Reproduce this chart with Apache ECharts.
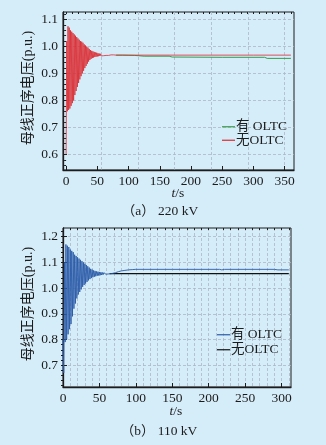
<!DOCTYPE html>
<html>
<head>
<meta charset="utf-8">
<script src="https://cdn.jsdelivr.net/npm/echarts@6/dist/echarts.min.js"></script>
<style>
  html, body { margin: 0; padding: 0; background: #d5ecf9; }
  #chart { width: 326px; height: 445px; }
</style>
</head>
<body>
<div id="chart"></div>
<script>
// (a) 220 kV: transient (both cases coincide, drawn once under 无OLTC), then the tails
const oscTimeA = [0,1,2,3,4,5,6,7,8,9,10,11,12,13,14,15,16,17,18,19,20,21,22,23,24,25,26,27,28,29,
  30,31,32,33,34,35,36,37,38,39,40,41,42,43,44,45,46,47,48,49,50,51,52,53,54,55,56,57,58,59,
  60,61,62,63,64,65,66,67,68,69,70,72,74,76,78,80]
const oscVoltA = [0.60,1.02,0.76,1.075,0.765,1.07,0.77,1.06,0.78,1.055,0.79,1.05,0.80,1.045,0.82,1.04,0.835,1.035,0.85,1.03,
  0.865,1.025,0.878,1.02,0.89,1.018,0.90,1.014,0.91,1.008,0.92,1.004,0.928,1.0,0.936,0.996,0.944,0.991,0.950,0.987,
  0.954,0.984,0.957,0.982,0.959,0.980,0.961,0.978,0.962,0.977,0.963,0.975,0.964,0.974,0.965,0.973,0.965,0.972,0.966,0.971,
  0.966,0.970,0.966,0.970,0.967,0.969,0.967,0.969,0.967,0.969,0.967,0.969,0.968,0.969,0.968,0.968]
const noOltcTimeA = [100, 200, 300, 360]
const noOltcVoltA = [0.968, 0.968, 0.968, 0.968]
const oltcTimeA = [80, 90, 110, 125, 165, 170, 250, 318, 322, 360]
const oltcVoltA = [0.968, 0.968, 0.967, 0.964, 0.964, 0.961, 0.960, 0.960, 0.956, 0.956]

// (b) 110 kV
const oscTimeB = [0,1,2,3,4,5,6,7,8,9,10,11,12,13,14,15,16,17,18,19,20,21,22,23,24,25,26,27,28,29,
  30,31,32,33,34,35,36,37,38,39,40,41,42,43,44,45,46,47,48,49,50,51,52,53,54,55,56,57,58,59,60,62,64,66]
const oscVoltB = [0.80,0.67,1.10,0.79,1.17,0.80,1.165,0.82,1.16,0.84,1.15,0.86,1.145,0.89,1.14,0.92,1.13,0.94,1.125,0.96,
  1.12,0.975,1.115,0.985,1.11,0.995,1.105,1.005,1.10,1.012,1.095,1.018,1.09,1.024,1.085,1.03,1.08,1.035,1.075,1.039,
  1.072,1.042,1.069,1.044,1.067,1.046,1.065,1.048,1.064,1.049,1.063,1.050,1.062,1.051,1.061,1.052,1.060,1.053,1.059,1.054,
  1.058,1.055,1.057,1.056]
const oltcTimeB = [68, 72, 76, 80, 85, 90, 95, 100, 150, 215, 218, 222, 290, 295, 310]
const oltcVoltB = [1.057, 1.060, 1.064, 1.067, 1.069, 1.071, 1.072, 1.073, 1.073, 1.073, 1.071, 1.073, 1.073, 1.071, 1.071]
const noOltcTimeB = [64, 310]
const noOltcVoltB = [1.056, 1.056]

const xTicksA = [0, 50, 100, 150, 200, 250, 300, 350]
const xGridA = [56, 114.8, 173.6, 232.4, 291.2, 350]
const yTicksA = [0.6, 0.7, 0.8, 0.9, 1.0, 1.1]
const yTicksB = [0.7, 0.8, 0.9, 1.0, 1.1, 1.2]
const legendText = { a1: '有 OLTC', a2: '无OLTC', b1: '有 OLTC', b2: '无OLTC' }

const zip = (t, v) => t.map((x, i) => [x, v[i]])
const range = (a, b, s) => { const r = []; for (let x = a; x <= b + 1e-9; x += s) r.push(+x.toFixed(3)); return r }

const serif = "'Liberation Serif', 'Noto Sans CJK SC', serif"
const ink = '#1c1c1c'
const gridLine = { show: true, lineStyle: { color: '#a9b9c6', type: [3, 2], width: 0.8 } }

function mainX(gi, min, max, ticks) {
  return {
    gridIndex: gi, type: 'value', min, max,
    axisLine: { show: true, onZero: false, lineStyle: { color: ink, width: 1.3 } },
    axisTick: { show: true, inside: true, length: 4, customValues: ticks, lineStyle: { color: ink } },
    axisLabel: { customValues: ticks, fontFamily: serif, fontSize: 13.5, color: ink, margin: 5 },
    splitLine: { show: false }
  }
}
function helperX(gi, min, max, ticks, tickLen, split) {
  return {
    gridIndex: gi, type: 'value', min, max,
    axisLine: { show: false },
    axisTick: { show: tickLen > 0, inside: true, length: tickLen, customValues: ticks, lineStyle: { color: ink } },
    axisLabel: { show: false },
    splitLine: split ? gridLine : { show: false }
  }
}
function mainY(gi, min, max, ticks) {
  return {
    gridIndex: gi, type: 'value', min, max,
    axisLine: { show: true, onZero: false, lineStyle: { color: ink, width: 1.3 } },
    axisTick: { show: true, inside: true, length: 4, customValues: ticks, lineStyle: { color: ink } },
    axisLabel: { customValues: ticks, fontFamily: serif, fontSize: 13.5, color: ink, margin: 5,
      formatter: v => v.toFixed(1) },
    splitLine: gridLine
  }
}
function helperY(gi, min, max, ticks) {
  return {
    gridIndex: gi, type: 'value', min, max,
    axisLine: { show: false },
    axisTick: { show: true, inside: true, length: 2, customValues: ticks, lineStyle: { color: ink } },
    axisLabel: { show: false },
    splitLine: { show: false }
  }
}

const chart = echarts.init(document.getElementById('chart'), null, { renderer: 'canvas' })

const legendBase = {
  orient: 'vertical', icon: 'rect', itemWidth: 13, itemHeight: 1.2,
  formatter: n => legendText[n],
  textStyle: { fontFamily: serif, fontSize: 13.5, color: ink, padding: [0, 0, 0, -4] }
}

const option = {
  backgroundColor: '#d5ecf9',
  animation: false,
  grid: [
    { left: 63, top: 12, width: 231, height: 158, show: true, borderColor: ink, borderWidth: 1, backgroundColor: 'transparent' },
    { left: 63, top: 228, width: 228, height: 159, show: true, borderColor: ink, borderWidth: 1, backgroundColor: 'transparent' }
  ],
  xAxis: [
    mainX(0, -5, 365, xTicksA),
    helperX(0, -5, 365, range(0, 360, 10), 2, false),
    helperX(0, -5, 365, xGridA, 0, true),
    mainX(1, 0, 313, range(0, 300, 50)),
    helperX(1, 0, 313, range(0, 310, 10), 2, true)
  ],
  yAxis: [
    mainY(0, 0.542, 1.128, yTicksA),
    helperY(0, 0.542, 1.128, range(0.56, 1.12, 0.02)),
    mainY(1, 0.615, 1.234, yTicksB),
    helperY(1, 0.615, 1.234, range(0.62, 1.22, 0.02))
  ],
  legend: [
    Object.assign({ data: ['a1', 'a2'], left: 217, top: 115, itemGap: 0 }, legendBase),
    Object.assign({ data: ['b1', 'b2'], left: 212, top: 323, itemGap: 1.5 }, legendBase)
  ],
  series: [
    { name: 'a1', type: 'line', xAxisIndex: 0, yAxisIndex: 0, showSymbol: false, z: 2,
      data: zip(oltcTimeA, oltcVoltA),
      lineStyle: { color: '#3a9a4c', width: 1 }, itemStyle: { color: '#3a9a4c' } },
    { name: 'a2', type: 'line', xAxisIndex: 0, yAxisIndex: 0, showSymbol: false, z: 3,
      data: zip(oscTimeA, oscVoltA).concat(zip(noOltcTimeA, noOltcVoltA)),
      lineStyle: { color: '#dc2a30', width: 0.8 }, itemStyle: { color: '#dc2a30' } },
    { name: 'b2', type: 'line', xAxisIndex: 3, yAxisIndex: 2, showSymbol: false, z: 2,
      data: zip(noOltcTimeB, noOltcVoltB),
      lineStyle: { color: '#111111', width: 1.2 }, itemStyle: { color: '#111111' } },
    { name: 'b1', type: 'line', xAxisIndex: 3, yAxisIndex: 2, showSymbol: false, z: 3,
      data: zip(oscTimeB, oscVoltB).concat(zip(oltcTimeB, oltcVoltB)),
      lineStyle: { color: '#2a5aa8', width: 0.9 }, itemStyle: { color: '#2a5aa8' } }
  ],
  graphic: [
    { type: 'text', x: 28, y: 88, rotation: Math.PI / 2,
      style: { text: '母线正序电压(p.u.)', x: 0, y: 0, align: 'center', verticalAlign: 'middle',
        fontFamily: serif, fontSize: 14, fill: ink } },
    { type: 'text', x: 28, y: 304, rotation: Math.PI / 2,
      style: { text: '母线正序电压(p.u.)', x: 0, y: 0, align: 'center', verticalAlign: 'middle',
        fontFamily: serif, fontSize: 14, fill: ink } },
    { type: 'text', x: 178, y: 193,
      style: { text: '{i|t}/s', align: 'center', verticalAlign: 'middle', fontFamily: serif, fontSize: 13.5, fill: ink,
        rich: { i: { fontStyle: 'italic', fontFamily: serif, fontSize: 13.5 } } } },
    { type: 'text', x: 176, y: 411,
      style: { text: '{i|t}/s', align: 'center', verticalAlign: 'middle', fontFamily: serif, fontSize: 13.5, fill: ink,
        rich: { i: { fontStyle: 'italic', fontFamily: serif, fontSize: 13.5 } } } },
    { type: 'text', x: 160, y: 211,
      style: { text: '（a） 220 kV', align: 'center', verticalAlign: 'middle', fontFamily: serif, fontSize: 13.5, fill: ink } },
    { type: 'text', x: 159, y: 431,
      style: { text: '（b） 110 kV', align: 'center', verticalAlign: 'middle', fontFamily: serif, fontSize: 13.5, fill: ink } }
  ]
}

chart.setOption(option)
</script>
</body>
</html>
